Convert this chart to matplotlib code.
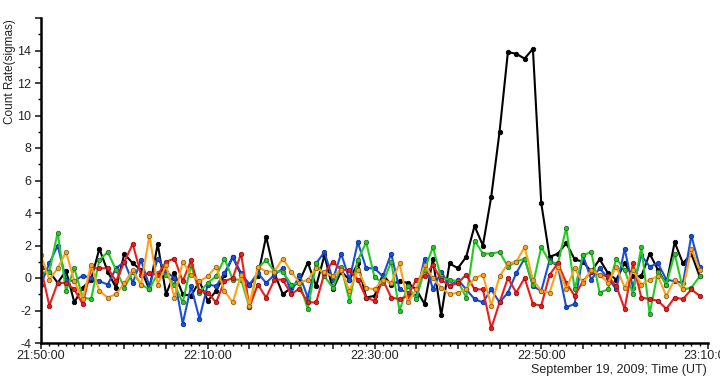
import datetime as dt

import matplotlib
matplotlib.use("Agg")
import matplotlib.dates as mdates
import matplotlib.pyplot as plt
from matplotlib.ticker import FuncFormatter, MultipleLocator

start = dt.datetime(2009, 9, 19, 21, 50, 0)
n_points = 80
times = [start + dt.timedelta(minutes=m) for m in range(n_points)]

black = [0.7, 0.4, -0.3, 0.45, -1.5, -0.6, -0.1, 1.8, 0.4, -0.6,
         1.5, 0.9, 0.5, -0.7, 2.1, -1.0, 0.3, -1.0, -1.1, -0.2,
         -1.4, -0.8, 0.2, 1.3, 0.2, -0.4, 0.1, 2.55, 0.3, -1.0,
         -0.6, -0.2, 0.95, -0.5, 1.4, -0.7, 0.4, -0.1, 0.9, -1.2,
         -1.1, 0.2, -0.4, -0.2, -0.3, -0.7, -1.6, 1.15, -2.3, 0.9,
         0.6, 1.3, 3.2, 2.0, 5.0, 9.0, 13.9, 13.8, 13.5, 14.1,
         4.6, 1.3, 1.5, 2.15, 1.15, 1.0, 0.4, 1.15, 0.3, -0.1,
         0.9, 0.1, 0.1, 1.5, 0.5, -0.4, 2.2, 0.9, 1.5, 0.1]

blue = [-0.4, 0.9, 2.0, -0.1, -0.2, 0.15, 0.0, -0.2, -0.4, 0.6,
        1.0, -0.3, 1.1, -0.5, 1.2, 0.4, 0.0, -2.8, -0.5, -2.5,
        -0.4, -0.5, 0.3, 1.3, 0.3, -0.4, 0.3, -0.3, 0.2, 0.6,
        -0.9, 0.2, -1.2, 0.9, 1.6, -0.1, 1.5, -0.1, 2.2, 0.6,
        0.6, 0.1, 1.5, -0.7, -0.9, -1.1, 1.2, -0.7, 0.4, -0.5,
        -0.1, -0.7, -1.3, -1.5, -0.7, -1.5, -0.9, 0.3, 1.2, -0.5,
        -0.8, 1.1, 0.7, -1.8, -1.6, 1.4, -0.1, 0.6, 0.0, -0.7,
        1.8, -0.6, 1.4, 0.7, 0.9, -0.1, -0.2, -0.3, 2.6, 0.7]

green = [0.3, 0.4, 2.8, -0.8, 0.6, -1.2, -1.3, 1.1, 1.6, 0.5,
         -0.6, 0.35, -0.4, -0.7, 0.3, 0.2, -0.4, -1.5, 0.8, -0.9,
         -0.3, 0.1, 1.2, -0.1, -0.1, -1.8, 0.6, 1.1, 0.4, 0.4,
         -0.4, -0.3, -1.9, 0.9, 0.1, -0.6, 0.7, -1.4, 1.1, 2.2,
         0.06, -0.3, 1.0, -2.0, -0.5, -1.3, 0.5, 1.9, 0.0, -0.1,
         -0.2, -1.2, 2.3, 1.5, 1.5, 1.6, 0.7, 1.0, 1.2, -0.4,
         1.9, 1.0, 0.9, 3.1, -0.7, 1.4, 1.6, -0.9, -0.7, 1.2,
         0.5, -1.0, 1.9, -2.2, 0.4, -0.4, 1.5, -0.7, -0.6, 0.1]

red = [0.6, -1.7, -0.3, -0.3, -0.7, -1.6, 0.6, 0.6, 0.6, -0.2,
       1.0, 2.1, 0.2, 0.3, 0.2, 1.0, 1.2, -0.2, 1.1, -0.8,
       -0.9, -1.5, -0.2, 0.0, 1.5, -1.8, -0.4, -1.2, -0.1, -0.1,
       -1.0, -0.65, -1.5, -1.5, 0.3, 1.0, 0.5, 0.5, -0.1, -1.2,
       -1.4, -0.1, -1.2, -1.3, -1.1, -0.1, 0.1, 0.8, -0.1, -0.5,
       -0.3, 0.2, -0.7, -0.7, -3.1, -1.5, 0.0, -0.9, 0.0, -1.6,
       -1.7, 0.2, 0.9, -0.3, -1.1, -0.2, 0.4, 0.2, 0.1, -0.5,
       -1.9, 0.9, -1.2, -1.3, -1.4, -1.9, -1.2, -1.3, -0.7, -1.1]

orange = [1.4, -0.1, 0.6, 1.6, -0.2, -1.3, 0.8, -0.8, -1.2, -1.0,
          -0.3, 0.5, -0.4, 2.6, -0.4, 0.8, -1.2, 1.0, 0.2, -0.2,
          0.1, 0.7, -0.8, -1.5, 0.2, -1.7, 0.7, 0.4, 0.4, 1.2,
          0.4, -0.3, -0.1, 0.6, 0.35, 0.1, 0.5, -0.8, 0.5, -0.6,
          -0.7, -0.1, -0.3, 0.9, -1.5, -0.7, 0.8, 0.0, -0.6, -1.0,
          -0.9, -0.7, 0.0, 0.2, -1.7, 0.1, 0.9, 1.0, 1.9, -0.1,
          -0.8, -0.9, 0.7, -0.7, 0.6, -0.3, 0.5, 0.2, -0.3, 0.7,
          -0.6, 0.5, -0.4, -0.1, 0.1, -1.1, -0.1, -0.7, 1.8, 0.5]

series = [
    (black, "#000000", "#000000"),
    (blue, "#1a4fd6", "#0a2f90"),
    (green, "#22cc22", "#2a6a2a"),
    (red, "#ee1c1c", "#8a1010"),
    (orange, "#ffa21a", "#8a6020"),
]

plt.rcParams["font.family"] = ["Liberation Sans", "DejaVu Sans"]

fig = plt.figure(figsize=(7.2, 3.79), dpi=100)
ax = fig.add_axes([41 / 720, 1 - 343 / 379, 667 / 720, 325 / 379])

for values, color, edge in series:
    ax.plot(times, values, color=color, lw=1.5, marker="o", ms=3.2,
            mfc=color, mec=edge, mew=0.6)

ax.set_xlim(start, start + dt.timedelta(minutes=80))
ax.set_ylim(-4, 16)

ax.xaxis.set_major_locator(mdates.MinuteLocator(byminute=range(0, 60, 5)))
ax.xaxis.set_minor_locator(mdates.MinuteLocator())


def fmt_time(x, pos):
    t = mdates.num2date(x)
    if t.minute in (10, 30, 50):
        return t.strftime("%H:%M:%S")
    return ""


ax.xaxis.set_major_formatter(FuncFormatter(fmt_time))
ax.yaxis.set_major_locator(MultipleLocator(2))
ax.yaxis.set_minor_locator(MultipleLocator(1))
ax.yaxis.set_major_formatter(FuncFormatter(lambda v, p: "" if v >= 16 else f"{v:g}"))

for side in ("top", "right"):
    ax.spines[side].set_visible(False)
for side in ("left", "bottom"):
    ax.spines[side].set_linewidth(1.8)

ax.tick_params(which="major", length=4, width=1.2, labelsize=9, pad=3,
               colors="#222222")
ax.tick_params(which="minor", length=2, width=1.0)
ax.tick_params(axis="x", which="major", pad=1)

fig.text(707 / 720, 1 - 370 / 379, "September 19, 2009; Time (UT)",
         ha="right", va="center", fontsize=9, color="#222222")
fig.text(10 / 720, 1 - 72 / 379, "Count Rate(sigmas)", rotation=90,
         ha="center", va="center", fontsize=8.5, color="#222222")

fig.savefig("out.png", dpi=100)
